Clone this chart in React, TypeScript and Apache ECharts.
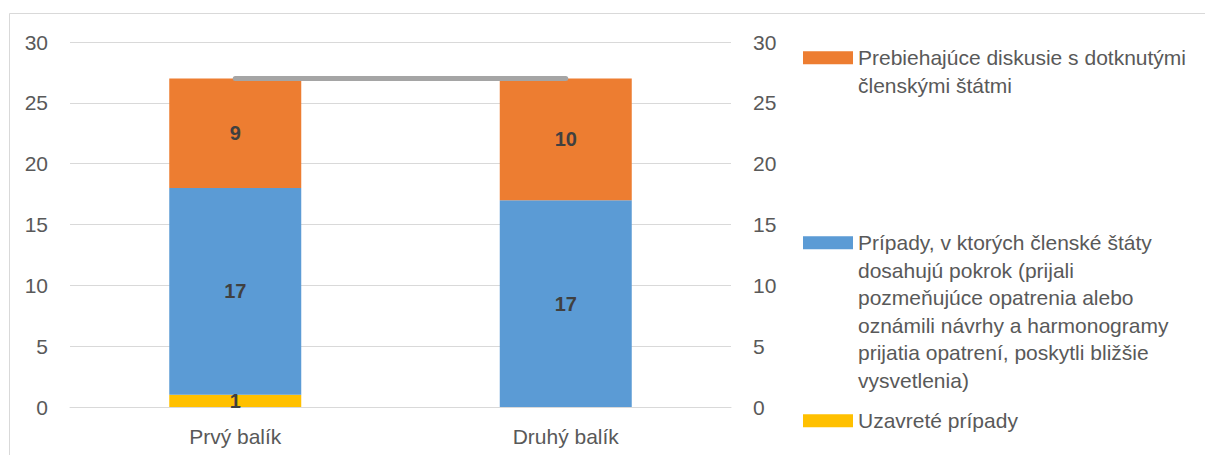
import React, { useEffect, useRef } from "react";
import * as echarts from "echarts";

const categories = ["Prvý balík", "Druhý balík"];
const closedCases = [1, 0];
const progressCases = [17, 17];
const ongoingCases = [9, 10];
const totals = [27, 27];
const yTicks = { min: 0, max: 30, interval: 5 };

const nameOngoing = "Prebiehajúce diskusie s dotknutými\nčlenskými štátmi";
const nameProgress =
  "Prípady, v ktorých členské štáty\ndosahujú pokrok (prijali\npozmeňujúce opatrenia alebo\noznámili návrhy a harmonogramy\nprijatia opatrení, poskytli bližšie\nvysvetlenia)";
const nameClosed = "Uzavreté prípady";

const FONT = "'Liberation Sans', 'DejaVu Sans', sans-serif";
const LH = 27.5;

// legend icon: a 50x13 rect aligned with the first text line of a block of n lines
const iconFor = (lines: number) => {
  const h = lines * LH;
  const top = LH / 2 - 6.5;
  return `path://M0,${top}H50V${top + 13}H0Z M0,0L0.01,0 M0,${h}L0.01,${h}`;
};

export default function App() {
  const ref = useRef<HTMLDivElement>(null);
  useEffect(() => {
    if (!ref.current) return;
    const chart = echarts.init(ref.current, null, { renderer: "svg" });
    const labelStyle = {
      show: true,
      position: "inside",
      color: "#404040",
      fontWeight: "bold",
      fontSize: 20,
      fontFamily: FONT,
      formatter: (p: any) => (p.value ? String(p.value) : ""),
    };
    const legendBase = {
      orient: "vertical",
      left: 803,
      itemWidth: 50,
      itemGap: 0,
      padding: 0,
      selectedMode: false,
      textStyle: {
        color: "#595959",
        fontSize: 21,
        fontFamily: FONT,
        lineHeight: LH,
      },
    };
    chart.setOption({
      animation: false,
      backgroundColor: "#fff",
      textStyle: { fontFamily: FONT },
      graphic: [
        {
          type: "rect",
          shape: { x: 9.5, y: 13.5, width: 1400, height: 600 },
          style: { fill: "none", stroke: "#D9D9D9", lineWidth: 1 },
          silent: true,
          z: -10,
        },
      ],
      grid: { left: 70, right: 474, top: 42, bottom: 48 },
      legend: [
        { ...legendBase, top: 44, itemHeight: 2 * LH, icon: iconFor(2), data: [nameOngoing] },
        { ...legendBase, top: 229, itemHeight: 6 * LH, icon: iconFor(6), data: [nameProgress] },
        { ...legendBase, top: 407, itemHeight: 13, icon: "rect", data: [nameClosed] },
      ],
      xAxis: {
        type: "category",
        data: categories,
        axisLine: { lineStyle: { color: "#D9D9D9" } },
        axisTick: { show: false },
        axisLabel: { color: "#595959", fontSize: 21, fontFamily: FONT, margin: 19 },
      },
      yAxis: [
        {
          type: "value",
          ...yTicks,
          axisLine: { show: false },
          axisTick: { show: false },
          splitLine: { lineStyle: { color: "#D9D9D9" } },
          axisLabel: { color: "#595959", fontSize: 21, fontFamily: FONT, margin: 22 },
        },
        {
          type: "value",
          ...yTicks,
          position: "right",
          axisLine: { show: false },
          axisTick: { show: false },
          splitLine: { show: false },
          axisLabel: { color: "#595959", fontSize: 21, fontFamily: FONT, margin: 22 },
        },
      ],
      series: [
        {
          name: nameClosed,
          type: "bar",
          stack: "s",
          barWidth: 132,
          data: closedCases,
          itemStyle: { color: "#FFC000" },
          label: labelStyle,
        },
        {
          name: nameProgress,
          type: "bar",
          stack: "s",
          barWidth: 132,
          data: progressCases,
          itemStyle: { color: "#5B9BD5" },
          label: labelStyle,
        },
        {
          name: nameOngoing,
          type: "bar",
          stack: "s",
          barWidth: 132,
          data: ongoingCases,
          itemStyle: { color: "#ED7D31" },
          label: labelStyle,
        },
        {
          name: "Spolu",
          type: "line",
          data: totals,
          symbol: "none",
          lineStyle: { color: "#A5A5A5", width: 5, cap: "round" },
          itemStyle: { color: "#A5A5A5" },
          label: {
            show: true,
            position: "top",
            distance: 19,
            color: "#404040",
            fontWeight: "bold",
            fontSize: 20,
            fontFamily: FONT,
          },
          z: 5,
        },
      ],
    });
    return () => chart.dispose();
  }, []);
  return (
    <div
      ref={ref}
      style={{ position: "fixed", left: 0, top: 0, width: 1205, height: 455 }}
    />
  );
}
